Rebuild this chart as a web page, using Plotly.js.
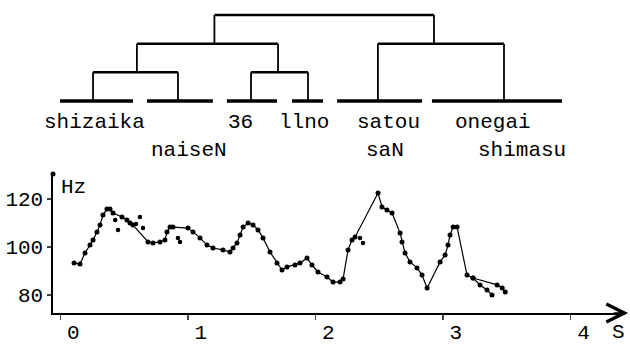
<!DOCTYPE html>
<html>
<head>
<meta charset="utf-8">
<script src="https://cdn.plot.ly/plotly-3.0.1.min.js"></script>
<style>html,body{margin:0;padding:0;background:#fff}#chart{width:630px;height:345px}</style>
</head>
<body>
<div id="chart"></div>
<script>
// ---- F0 contour (time in s, frequency in Hz) ----
const time = [0.107,0.154,0.193,0.232,0.256,0.287,0.311,0.334,0.365,0.389,0.413,0.483,0.522,0.546,0.569,
  0.687,0.726,0.781,0.820,0.836,0.860,0.883,1.001,1.040,1.095,1.150,1.197,1.275,1.330,1.354,1.385,1.409,
  1.433,1.472,1.511,1.550,1.589,1.644,1.699,1.738,1.777,1.840,1.879,1.934,1.973,2.020,2.091,2.138,2.193,
  2.217,2.256,2.287,2.311,2.491,2.522,2.561,2.601,2.664,2.679,2.703,2.742,2.797,2.836,2.876,2.978,3.017,
  3.040,3.056,3.080,3.111,3.189,3.236,3.291,3.346,3.385];
const hz = [93.3,92.9,97.5,100.8,102.9,106.3,109.2,113.3,115.8,115.8,114.2,112.5,111.3,110.0,109.2,
  102.1,101.7,102.1,102.9,106.3,108.3,108.3,107.9,106.3,103.8,100.8,99.6,98.8,97.9,99.6,101.7,105.0,
  108.3,110.0,109.2,107.1,103.8,97.9,93.3,90.4,91.7,92.5,93.3,95.4,92.5,89.6,87.5,85.4,85.4,
  86.7,98.8,102.9,104.2,122.5,116.7,115.4,114.2,105.8,102.1,97.5,93.8,91.3,88.3,82.9,93.8,96.7,
  100.8,105.0,108.3,108.3,88.3,87.1,84.2,82.1,80.0];
// isolated measured points off the main track
const strayTime = [0.430,0.452,0.593,0.624,0.648,0.922,0.938,2.350,2.373];
const strayHz = [111.3,107.1,109.6,112.5,107.9,103.8,102.1,103.8,101.7];
// secondary track at the end
const tailTime = [3.236,3.425,3.465,3.489];
const tailHz = [87.1,84.2,82.9,81.3];

// ---- cluster tree over the phrases ----
const leafLine1 = ['shizaika','','36','llno','satou','onegai'];
const leafLine2 = ['','naiseN','','','saN','shimasu'];
const leafStart = [-0.003,0.679,1.306,1.816,2.170,2.914];
const leafEnd = [0.569,1.196,1.699,2.060,2.836,3.934];
const leafAnchor = [0.256,0.922,1.495,1.942,2.490,3.479];
const mergeLeft = [0,2,6,4,8];
const mergeRight = [1,3,7,5,9];
const mergeLevel = [1,1,2,2,3];
const mergeX = [0.600,1.707,1.208,2.930,2.069];

const xTicks = [0,1,2,3,4];
const yTicks = [80,100,120];

// build tree paths
const nodeX = leafAnchor.concat(mergeX);
const nodeLevel = leafAnchor.map(()=>0).concat(mergeLevel);
const barX=[],barY=[],vX=[],vY=[],lX=[],lY=[];
for (let m=0;m<mergeLeft.length;m++){
  const a=mergeLeft[m], b=mergeRight[m], L=mergeLevel[m];
  barX.push(nodeX[a],nodeX[b],null); barY.push(L,L,null);
  vX.push(nodeX[a],nodeX[a],null); vY.push(nodeLevel[a],L,null);
  vX.push(nodeX[b],nodeX[b],null); vY.push(nodeLevel[b],L,null);
}
for (let i=0;i<leafStart.length;i++){ lX.push(leafStart[i],leafEnd[i],null); lY.push(0,0,null); }

const FONT = 'Liberation Mono, DejaVu Sans Mono, monospace';
const traces = [
  {x:lX,y:lY,xaxis:'x',yaxis:'y2',mode:'lines',line:{color:'#000',width:3.5},hoverinfo:'skip'},
  {x:barX,y:barY,xaxis:'x',yaxis:'y2',mode:'lines',line:{color:'#000',width:2.5},hoverinfo:'skip'},
  {x:vX,y:vY,xaxis:'x',yaxis:'y2',mode:'lines',line:{color:'#000',width:1.8},hoverinfo:'skip'},
  {x:time,y:hz,mode:'lines+markers',line:{color:'#000',width:1.2},marker:{color:'#000',size:5},cliponaxis:false},
  {x:tailTime,y:tailHz,mode:'lines+markers',line:{color:'#000',width:1.2},marker:{color:'#000',size:5}},
  {x:strayTime,y:strayHz,mode:'markers',marker:{color:'#000',size:4.5}}
];

// label placement (row levels and small pixel nudges)
const row1 = -0.767, row2 = -1.744;
const shift1 = [-1.5,0,-11.5,-3.5,9,-4];
const shift2 = [0,9,0,0,5.5,25];
const annotations = [];
for (let i=0;i<leafStart.length;i++){
  const cx = (leafStart[i]+leafEnd[i])/2;
  if (leafLine1[i]) annotations.push({x:cx,y:row1,xref:'x',yref:'y2',text:leafLine1[i],showarrow:false,xanchor:'center',yanchor:'middle',xshift:shift1[i],font:{family:FONT,size:21,color:'#000'}});
  if (leafLine2[i]) annotations.push({x:cx,y:row2,xref:'x',yref:'y2',text:leafLine2[i],showarrow:false,xanchor:'center',yanchor:'middle',xshift:shift2[i],font:{family:FONT,size:21,color:'#000'}});
}
annotations.push({xref:'paper',yref:'paper',x:0.035,y:0.406,xanchor:'center',yanchor:'middle',text:'Hz',showarrow:false,font:{family:FONT,size:21,color:'#000'}});
annotations.push({xref:'paper',yref:'paper',x:0.9878,y:-0.062,xanchor:'center',yanchor:'middle',text:'S',showarrow:false,font:{family:FONT,size:21,color:'#000'}});
annotations.push({xref:'paper',yref:'paper',x:1.0055,y:0,ax:-16,ay:0,text:'',showarrow:true,arrowhead:5,arrowsize:2.2,arrowwidth:1.6,arrowcolor:'#000'});

const layout = {
  width:630,height:345,
  margin:{l:53,r:5,t:5,b:32},
  paper_bgcolor:'#fff',plot_bgcolor:'#fff',
  showlegend:false,
  font:{family:FONT,size:21,color:'#000'},
  xaxis:{range:[-0.058,4.428],tickvals:xTicks,ticktext:xTicks.map(String),ticks:'outside',ticklen:5,tickwidth:1.5,
    showline:true,linewidth:2,linecolor:'#000',showgrid:false,zeroline:false,ticklabelshift:13,ticklabelstandoff:-6,
    tickfont:{family:FONT,size:21,color:'#000'}},
  yaxis:{domain:[0,0.448],range:[72.5,130],tickvals:yTicks,ticktext:yTicks.map(String),ticks:'outside',ticklen:4,tickwidth:1.5,
    showline:true,linewidth:1.6,linecolor:'#000',showgrid:false,zeroline:false,
    tickfont:{family:FONT,size:21,color:'#000'}},
  yaxis2:{domain:[0.4643,1],range:[-2.407,3.349],visible:false,anchor:'x'},
  annotations:annotations,
  shapes:[{type:'circle',xref:'paper',yref:'paper',xsizemode:'pixel',ysizemode:'pixel',xanchor:0,yanchor:0.448,
    x0:-2.5,x1:2.5,y0:-1.5,y1:3.5,fillcolor:'#000',line:{width:0}}]
};
Plotly.newPlot('chart',traces,layout,{staticPlot:true});
</script>
</body>
</html>
